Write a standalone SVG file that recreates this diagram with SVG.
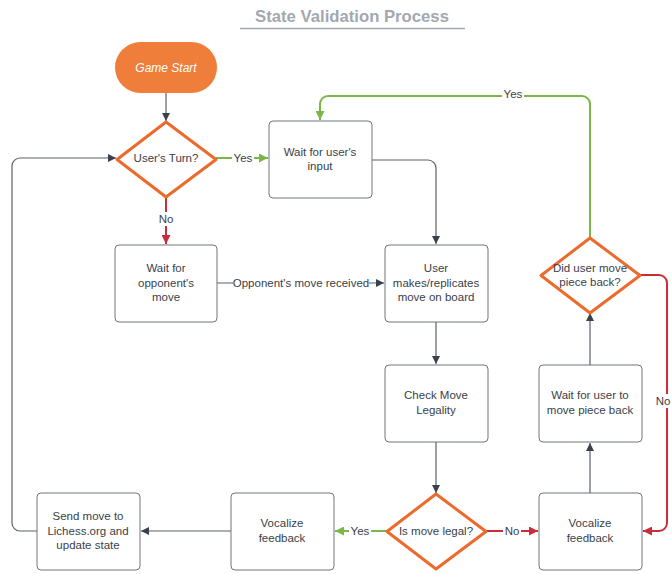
<svg xmlns="http://www.w3.org/2000/svg" width="672" height="574" viewBox="0 0 672 574">
<style>
text{font-family:"Liberation Sans",Arial,sans-serif;font-size:11.5px;fill:#3a414a;text-anchor:middle}
.box{fill:#fff;stroke:#6f747c;stroke-width:1}
.dia{fill:#fff;stroke:#ec6a2c;stroke-width:3;stroke-linejoin:round}
.c{fill:none;stroke:#5b616a;stroke-width:1.2}
.g{fill:none;stroke:#7ab648;stroke-width:2}
.r{fill:none;stroke:#c92d39;stroke-width:2}
.lbl{fill:#fff}
</style>
<defs>
<marker id="ad" viewBox="0 0 10 10" refX="10" refY="5" markerWidth="8" markerHeight="8" markerUnits="userSpaceOnUse" orient="auto"><path d="M0,0L10,5L0,10z" fill="#3a414a"/></marker>
<marker id="ag" viewBox="0 0 10 10" refX="10" refY="5" markerWidth="9" markerHeight="9" markerUnits="userSpaceOnUse" orient="auto"><path d="M0,0L10,5L0,10z" fill="#7ab648"/></marker>
<marker id="ar" viewBox="0 0 10 10" refX="10" refY="5" markerWidth="9" markerHeight="9" markerUnits="userSpaceOnUse" orient="auto"><path d="M0,0L10,5L0,10z" fill="#c92d39"/></marker>
</defs>
<g id="title">
<text x="352" y="22" style="font-size:16.7px;font-weight:bold;fill:#a3a8b0">State Validation Process</text>
<line x1="240" y1="28.5" x2="465" y2="28.5" stroke="#a3a8b0" stroke-width="1.5"/>
</g>
<g id="connectors">
<path class="c" d="M166,93V121" marker-end="url(#ad)"/>
<path class="g" d="M216,158H268" marker-end="url(#ag)"/>
<rect class="lbl" x="232" y="151" width="22" height="14"/><text x="243" y="162">Yes</text>
<path class="r" d="M166,197V244" marker-end="url(#ar)"/>
<rect class="lbl" x="157" y="212" width="18" height="14"/><text x="166" y="223">No</text>
<path class="c" d="M372,160H428A8,8 0 0 1 436,168V244" marker-end="url(#ad)"/>
<path class="c" d="M217,283H384" marker-end="url(#ad)"/>
<rect class="lbl" x="233" y="276" width="136" height="14"/><text x="301" y="287">Opponent's move received</text>
<path class="c" d="M436,322V364" marker-end="url(#ad)"/>
<path class="c" d="M436,442V493" marker-end="url(#ad)"/>
<path class="r" d="M486,531H538" marker-end="url(#ar)"/>
<rect class="lbl" x="503" y="524" width="18" height="14"/><text x="512" y="535">No</text>
<path class="g" d="M387,531H335" marker-end="url(#ag)"/>
<rect class="lbl" x="349" y="524" width="22" height="14"/><text x="360" y="535">Yes</text>
<path class="c" d="M231,531H141" marker-end="url(#ad)"/>
<path class="c" d="M37,531H20A8,8 0 0 1 12,523V166A8,8 0 0 1 20,158H116" marker-end="url(#ad)"/>
<path class="c" d="M590,493V443" marker-end="url(#ad)"/>
<path class="c" d="M590,365V313" marker-end="url(#ad)"/>
<path class="g" d="M590,238V104A8,8 0 0 0 582,96H328A8,8 0 0 0 320,104V120" marker-end="url(#ag)"/>
<rect class="lbl" x="502" y="87" width="22" height="14"/><text x="513" y="98">Yes</text>
<path class="r" d="M640,275H659A8,8 0 0 1 667,283V523A8,8 0 0 1 659,531H643" marker-end="url(#ar)"/>
<rect class="lbl" x="656" y="394" width="16" height="14"/><text x="670.5" y="405" style="text-anchor:end">No</text>
</g>
<g id="game-start">
<rect x="115" y="42" width="102" height="51" rx="25.5" fill="#ef7e3a"/>
<text x="166" y="71.5" style="fill:#fff;font-style:italic;font-size:12px">Game Start</text>
</g>
<g id="users-turn">
<path class="dia" d="M166,122L216,159.5L166,197L117,159.5Z"/>
<text x="166" y="162">User's Turn?</text>
</g>
<g id="wait-user-input">
<rect class="box" x="269" y="121" width="103" height="77" rx="4"/>
<text x="320" y="156">Wait for user's</text><text x="320" y="170">input</text>
</g>
<g id="wait-opponent">
<rect class="box" x="115" y="245" width="102" height="77" rx="4"/>
<text x="166" y="272">Wait for</text><text x="166" y="286.5">opponent's</text><text x="166" y="301">move</text>
</g>
<g id="user-makes-move">
<rect class="box" x="385" y="245" width="103" height="77" rx="4"/>
<text x="436" y="272">User</text><text x="436" y="286.5">makes/replicates</text><text x="436" y="301">move on board</text>
</g>
<g id="check-legality">
<rect class="box" x="385" y="365" width="103" height="77" rx="4"/>
<text x="436" y="399">Check Move</text><text x="436" y="413.5">Legality</text>
</g>
<g id="is-legal">
<path class="dia" d="M436,494L486,531.5L436,569L387,531.5Z"/>
<text x="436" y="535">Is move legal?</text>
</g>
<g id="vocalize-no">
<rect class="box" x="539" y="493" width="103" height="77" rx="4"/>
<text x="590" y="527">Vocalize</text><text x="590" y="541.5">feedback</text>
</g>
<g id="wait-move-back">
<rect class="box" x="539" y="365" width="103" height="77" rx="4"/>
<text x="590" y="399">Wait for user to</text><text x="590" y="413.5">move piece back</text>
</g>
<g id="did-move-back">
<path class="dia" d="M590,238L640,275.5L590,313L541,275.5Z"/>
<text x="590" y="272">Did user move</text><text x="590" y="286">piece back?</text>
</g>
<g id="vocalize-yes">
<rect class="box" x="231" y="493" width="103" height="77" rx="4"/>
<text x="282" y="527">Vocalize</text><text x="282" y="541.5">feedback</text>
</g>
<g id="send-move">
<rect class="box" x="37" y="493" width="103" height="77" rx="4"/>
<text x="88" y="520">Send move to</text><text x="88" y="534.5">Lichess.org and</text><text x="88" y="549">update state</text>
</g>
</svg>
